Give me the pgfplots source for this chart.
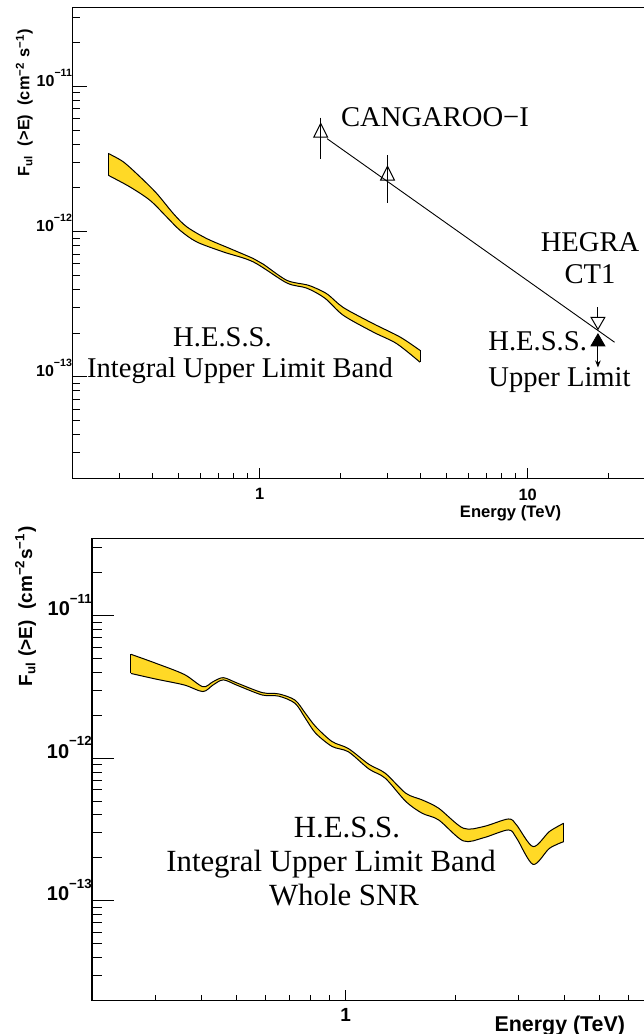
\documentclass[border=0pt]{standalone}
\usepackage{fontspec}
\setmainfont{Liberation Serif}
\newfontfamily\helv{Liberation Sans}
\usepackage{pgfplots}
\pgfplotsset{compat=1.18}
\usepackage{pgfplotstable}
\usepgfplotslibrary{fillbetween}
\usetikzlibrary{arrows.meta}
\definecolor{bandyellow}{RGB}{255,217,38}

\newcommand{\tenA}[1]{10\raisebox{0.62em}{\fontsize{5.3}{6}\selectfont −#1}}
\newcommand{\tenB}[1]{10\raisebox{0.62em}{\fontsize{6.6}{7}\selectfont −#1}}

% top panel band
\pgfplotstableread{
x y
0.2724 3.45e-12
0.310 3.02e-12
0.358 2.38e-12
0.413 1.83e-12
0.4765 1.33e-12
0.534 1.08e-12
0.6345 8.95e-13
0.775 7.64e-13
0.947 6.52e-13
1.032 5.96e-13
1.262 4.62e-13
1.498 4.30e-13
1.633 4.05e-13
1.80 3.68e-13
2.052 3.00e-13
2.656 2.32e-13
3.341 1.88e-13
3.967 1.52e-13
}\topup
\pgfplotstableread{
x y
0.2724 2.44e-12
0.328 2.03e-12
0.390 1.64e-12
0.450 1.26e-12
0.5045 1.02e-12
0.582 8.49e-13
0.732 7.24e-13
0.947 6.18e-13
1.262 4.43e-13
1.498 4.08e-13
1.751 3.48e-13
2.052 2.65e-13
2.656 2.03e-13
3.248 1.69e-13
3.967 1.26e-13
}\toplo
% bottom panel band
\pgfplotstableread{
x y
0.256 5.37e-12
0.2995 4.65e-12
0.359 3.88e-12
0.404 3.18e-12
0.431 3.45e-12
0.460 3.68e-12
0.504 3.36e-12
0.589 2.89e-12
0.654 2.83e-12
0.725 2.56e-12
0.774 2.07e-12
0.826 1.67e-12
0.917 1.31e-12
1.017 1.17e-12
1.158 9.07e-13
1.285 7.85e-13
1.464 5.68e-13
1.624 5.10e-13
1.803 4.46e-13
2.107 3.23e-13
2.400 3.32e-13
2.805 3.75e-13
2.955 3.40e-13
3.281 2.40e-13
3.639 3.06e-13
3.987 3.50e-13
}\botup
\pgfplotstableread{
x y
0.256 3.94e-12
0.2995 3.60e-12
0.359 3.27e-12
0.404 2.94e-12
0.431 3.27e-12
0.460 3.55e-12
0.504 3.24e-12
0.589 2.78e-12
0.654 2.73e-12
0.725 2.43e-12
0.774 1.91e-12
0.826 1.50e-12
0.917 1.21e-12
1.017 1.11e-12
1.158 8.41e-13
1.285 7.24e-13
1.464 4.97e-13
1.624 4.11e-13
1.803 3.69e-13
2.107 2.63e-13
2.400 2.77e-13
2.805 3.14e-13
2.955 2.75e-13
3.281 1.80e-13
3.639 2.33e-13
3.987 2.60e-13
}\botlo

\begin{document}
\begin{tikzpicture}
% ---------------- top panel: y ticks ----------------
\begin{axis}[scale only axis, xmode=log, ymode=log, ymin=2e-14, ymax=3.5e-11,
  xmin=0.2, xmax=30, tick pos=left, tick align=inside,
  axis line style={line width=0.6pt}, every tick/.style={black, line width=0.5pt},
  at={(36.15pt,-239.15pt)}, anchor=south west, width=291.6pt, height=235.5pt,
  xtick=\empty, xminorticks=false,
  ytick={1e-13,1e-12,1e-11}, yticklabels={\tenA{13},\tenA{12},\tenA{11}},
  minor ytick={3e-14,4e-14,5e-14,6e-14,7e-14,8e-14,9e-14,
    2e-13,3e-13,4e-13,5e-13,6e-13,7e-13,8e-13,9e-13,
    2e-12,3e-12,4e-12,5e-12,6e-12,7e-12,8e-12,9e-12,2e-11,3e-11},
  major tick length=7.5pt, minor tick length=4pt,
  yticklabel style={font=\helv\bfseries\fontsize{8}{9}\selectfont, anchor=base east, inner sep=0pt},
  ylabel={F\textsubscript{ul}~~(>E)~~(cm\textsuperscript{−2}~s\textsuperscript{−1})},
  ylabel style={at={(axis description cs:-0.0734,0.6403)}, anchor=base west, inner sep=0pt,
    font=\helv\bfseries\fontsize{8.2}{10}\selectfont},
]
\end{axis}
% ---------------- top panel: x ticks + data ----------------
\begin{axis}[scale only axis, xmode=log, ymode=log, ymin=2e-14, ymax=3.5e-11,
  xmin=0.2, xmax=30, tick pos=left, tick align=inside,
  axis line style={line width=0.6pt}, every tick/.style={black, line width=0.5pt},
  at={(36.15pt,-239.15pt)}, anchor=south west, width=291.6pt, height=235.5pt,
  ytick=\empty, yminorticks=false,
  xtick={1,10}, xticklabels={1,10},
  minor xtick={0.3,0.4,0.5,0.6,0.7,0.8,0.9,2,3,4,5,6,7,8,9,20},
  major tick length=5.3pt, minor tick length=2.7pt,
  xticklabel style={font=\helv\bfseries\fontsize{8.2}{9}\selectfont, anchor=north, inner sep=0pt, yshift=-5pt},
  xlabel={Energy (TeV)},
  xlabel style={at={(axis description cs:0.7514,-0.0567)}, anchor=north, inner sep=0pt,
    font=\helv\bfseries\fontsize{8.3}{9}\selectfont},
]
\addplot[draw=none, name path=tu, smooth] table {\topup};
\addplot[draw=none, name path=tl, smooth] table {\toplo};
\addplot[fill=bandyellow, draw=none] fill between[of=tu and tl];
\addplot[black, line width=0.5pt, smooth] table {\topup};
\addplot[black, line width=0.5pt, smooth] table {\toplo};
\addplot[black, line width=0.5pt] coordinates {(0.2724,3.45e-12) (0.2724,2.44e-12)};
\addplot[black, line width=0.5pt] coordinates {(3.967,1.52e-13) (3.967,1.26e-13)};
% CANGAROO-I fit and points
\addplot[black, line width=0.45pt] coordinates {(1.785,4.36e-12) (21.1,1.73e-13)};
\addplot[black, line width=0.5pt] coordinates {(1.69,6.08e-12) (1.69,3.17e-12)};
\addplot[black, line width=0.5pt] coordinates {(3.0,3.34e-12) (3.0,1.57e-12)};
\addplot[only marks, mark=triangle, mark size=4pt, mark options={black, line width=0.5pt, yscale=1.15}]
  coordinates {(1.69,4.8e-12) (3.0,2.43e-12)};
% HEGRA CT1 upper limit
\addplot[black, line width=0.5pt] coordinates {(18.3,3.01e-13) (18.3,2.57e-13)};
\addplot[only marks, mark=triangle, mark size=4pt, mark options={black, line width=0.5pt, rotate=180}]
  coordinates {(18.3,2.41e-13)};
% H.E.S.S. upper limit
\addplot[black, line width=0.5pt, -{Stealth[length=3.5pt,width=2.8pt]}] coordinates {(18.3,1.64e-13) (18.3,1.16e-13)};
\addplot[only marks, mark=triangle*, mark size=4pt, mark options={black, fill=black}]
  coordinates {(18.3,1.74e-13)};
\end{axis}

% ---------------- bottom panel: y ticks ----------------
\begin{axis}[scale only axis, xmode=log, ymode=log, ymin=2e-14, ymax=3.5e-11,
  xmin=0.2, xmax=10, tick pos=left, tick align=inside,
  axis line style={line width=0.6pt}, every tick/.style={black, line width=0.5pt},
  at={(46pt,-500.15pt)}, anchor=south west, width=308.4pt, height=231pt,
  xtick=\empty, xminorticks=false,
  ytick={1e-13,1e-12,1e-11}, yticklabels={\tenB{13},\tenB{12},\tenB{11}},
  minor ytick={3e-14,4e-14,5e-14,6e-14,7e-14,8e-14,9e-14,
    2e-13,3e-13,4e-13,5e-13,6e-13,7e-13,8e-13,9e-13,
    2e-12,3e-12,4e-12,5e-12,6e-12,7e-12,8e-12,9e-12,2e-11,3e-11},
  major tick length=11pt, minor tick length=5pt,
  yticklabel style={font=\helv\bfseries\fontsize{10}{11}\selectfont, anchor=base east, inner sep=0pt},
  ylabel={F\textsubscript{ul}~(>E)~~(cm\textsuperscript{−2}s\textsuperscript{−1})},
  ylabel style={at={(axis description cs:-0.0972,0.6788)}, anchor=base west, inner sep=0pt,
    font=\helv\bfseries\fontsize{9.5}{11}\selectfont},
]
\end{axis}
% ---------------- bottom panel: x ticks + data ----------------
\begin{axis}[scale only axis, xmode=log, ymode=log, ymin=2e-14, ymax=3.5e-11,
  xmin=0.2, xmax=10, tick pos=left, tick align=inside,
  axis line style={line width=0.6pt}, every tick/.style={black, line width=0.5pt},
  at={(46pt,-500.15pt)}, anchor=south west, width=308.4pt, height=231pt,
  ytick=\empty, yminorticks=false,
  xtick={1}, xticklabels={1},
  minor xtick={0.3,0.4,0.5,0.6,0.7,0.8,0.9,2,3,4,5,6,7,8,9},
  major tick length=5.2pt, minor tick length=2.7pt,
  xticklabel style={font=\helv\bfseries\fontsize{9.5}{10}\selectfont, anchor=north, inner sep=0pt, yshift=-4pt},
  xlabel={Energy (TeV)},
  xlabel style={at={(axis description cs:0.7585,-0.0329)}, anchor=north, inner sep=0pt,
    font=\helv\bfseries\fontsize{10.7}{12}\selectfont},
]
\addplot[draw=none, name path=bu, smooth] table {\botup};
\addplot[draw=none, name path=bl, smooth] table {\botlo};
\addplot[fill=bandyellow, draw=none] fill between[of=bu and bl];
\addplot[black, line width=0.5pt, smooth] table {\botup};
\addplot[black, line width=0.5pt, smooth] table {\botlo};
\addplot[black, line width=0.5pt] coordinates {(0.256,5.37e-12) (0.256,3.94e-12)};
\addplot[black, line width=0.5pt] coordinates {(3.987,3.50e-13) (3.987,2.60e-13)};
\end{axis}

% ---------------- annotations ----------------
\begin{scope}[x=0.5pt, y=-0.5pt, every node/.style={inner sep=0pt}]
\node[anchor=base, font=\fontsize{14.3}{16}\selectfont] at (435,126.5) {CANGAROO−I};
\node[anchor=base, font=\fontsize{14.3}{16}\selectfont] at (590,251) {HEGRA};
\node[anchor=base, font=\fontsize{14.3}{16}\selectfont] at (590,283) {CT1};
\node[anchor=base west, font=\fontsize{14.3}{16}\selectfont] at (488,350) {H.E.S.S.};
\node[anchor=base west, font=\fontsize{14.3}{16}\selectfont] at (488,386.5) {Upper Limit};
\node[anchor=base, font=\fontsize{14.3}{16}\selectfont] at (222.5,346.5) {H.E.S.S.};
\node[anchor=base, font=\fontsize{14.3}{16}\selectfont] at (240,377) {Integral Upper Limit Band};
\node[anchor=base, font=\fontsize{15.4}{17}\selectfont] at (347,837) {H.E.S.S.};
\node[anchor=base, font=\fontsize{15.4}{17}\selectfont] at (331,871) {Integral Upper Limit Band};
\node[anchor=base, font=\fontsize{15.4}{17}\selectfont] at (344,905) {Whole SNR};
\end{scope}

\pgfresetboundingbox
\useasboundingbox (0pt,0pt) rectangle (321.5pt,-517pt);
\end{tikzpicture}
\end{document}
